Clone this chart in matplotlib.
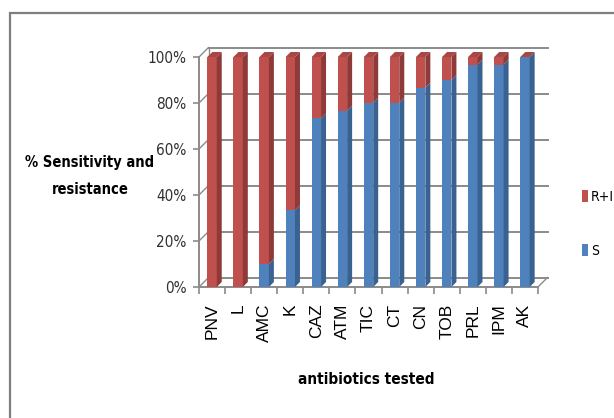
import matplotlib.pyplot as plt
import numpy as np
from matplotlib.patches import Polygon, Rectangle

antibiotics = ['PNV', 'L', 'AMC', 'K', 'CAZ', 'ATM', 'TIC', 'CT', 'CN', 'TOB', 'PRL', 'IPM', 'AK']
sensitive = [0, 0, 10, 33.3, 73.3, 76.7, 80, 80, 86.7, 90, 96.7, 96.7, 100]
resistant = [100, 100, 90, 66.7, 26.7, 23.3, 20, 20, 13.3, 10, 3.3, 3.3, 0]
yticks = [0, 20, 40, 60, 80, 100]

RED, RED_SIDE, RED_TOP = '#C0504D', '#8E3A38', '#A94744'
BLUE, BLUE_SIDE = '#4F81BD', '#3A6291'
GRID = '#8A8A8A'
NARROW = dict(family='DejaVu Sans', fontstretch='condensed')

fig = plt.figure(figsize=(6.14, 4.18), dpi=100)
W, H = 614, 418

# outer chart border
fig.patches.append(Rectangle((10 / W, -0.1), 1.2, (418 - 13) / H + 0.1, transform=fig.transFigure,
                             fill=False, edgecolor='#7f7f7f', linewidth=1.6))

left, right, top, bottom = 199, 538, 57, 287
ax = fig.add_axes([left / W, (H - bottom) / H, (right - left) / W, (bottom - top) / H])
n = len(antibiotics)
ax.set_xlim(-0.5, n - 0.5)
ax.set_ylim(0, 100)
ax.patch.set_visible(False)

px_x = n / (right - left)
px_y = 100 / (bottom - top)

# back wall offset and bar depth (in data units)
wdx, wdy = 9.5 * px_x, 9.5 * px_y
bdx, bdy = 5 * px_x, 5 * px_y

x0, x1 = -0.5, n - 0.5
for v in yticks:
    ax.plot([x0 + wdx, x1 + wdx], [v + wdy, v + wdy], color=GRID, lw=1.4, zorder=1, clip_on=False)
    ax.plot([x0, x0 + wdx], [v, v + wdy], color=GRID, lw=1.0, zorder=1, clip_on=False)
ax.plot([x0 + wdx, x0 + wdx], [wdy, 100 + wdy], color=GRID, lw=1.0, zorder=1, clip_on=False)
ax.plot([x1, x1 + wdx], [0, wdy], color=GRID, lw=1.0, zorder=1, clip_on=False)

width = 0.36
x = np.arange(n)
s = np.array(sensitive)
r = np.array(resistant)
ax.bar(x, s, width, color=BLUE, zorder=3, label='S', linewidth=0)
ax.bar(x, r, width, bottom=s, color=RED, zorder=3, label='R+I', linewidth=0)

for xi, sv, rv in zip(x, s, r):
    xr = xi + width / 2
    xl = xi - width / 2
    for y0, y1, col in [(0, sv, BLUE_SIDE), (sv, sv + rv, RED_SIDE)]:
        if y1 > y0:
            ax.add_patch(Polygon([(xr, y0), (xr + bdx, y0 + bdy), (xr + bdx, y1 + bdy), (xr, y1)],
                                 closed=True, facecolor=col, edgecolor='none', zorder=3, clip_on=False))
    ytop = sv + rv
    ax.add_patch(Polygon([(xl, ytop), (xr, ytop), (xr + bdx, ytop + bdy), (xl + bdx, ytop + bdy)],
                         closed=True, facecolor=RED_TOP, edgecolor='none', zorder=3, clip_on=False))

for sp in ['top', 'right']:
    ax.spines[sp].set_visible(False)
for sp in ['left', 'bottom']:
    ax.spines[sp].set_color(GRID)
    ax.spines[sp].set_linewidth(1.4)

ax.set_yticks(yticks)
ax.set_yticklabels(['%d%%' % v for v in yticks], fontsize=11, color='#303030', **NARROW)
ax.tick_params(axis='y', length=4, color=GRID, width=1.2, pad=5)

ax.set_xticks(np.arange(n + 1) - 0.5)
ax.set_xticklabels([])
ax.tick_params(axis='x', which='major', length=5, color=GRID, width=1.2)
ax.set_xticks(x, minor=True)
ax.set_xticklabels(antibiotics, minor=True, rotation=90, family=['Liberation Sans', 'DejaVu Sans'],
                   fontsize=12.5, color='black')
ax.tick_params(axis='x', which='minor', length=0, pad=12)

fig.text(90 / W, 1 - 176 / H, '% Sensitivity and\nresistance', ha='center', va='center',
         fontweight='bold', fontsize=10.5, linespacing=2.0, **NARROW)
fig.text(366 / W, 1 - 379 / H, 'antibiotics tested', ha='center', va='center',
         fontweight='bold', fontsize=11, **NARROW)

handles, labels = ax.get_legend_handles_labels()
fig.legend(handles[::-1], labels[::-1], loc='center left', bbox_to_anchor=(582 / W, 1 - 224 / H),
           frameon=False, borderpad=0, borderaxespad=0, handlelength=0.45, handleheight=0.95,
           handletextpad=0.2, labelspacing=2.9,
           prop={'family': 'DejaVu Sans', 'stretch': 'condensed', 'size': 10})

fig.savefig('out.png', dpi=100)
